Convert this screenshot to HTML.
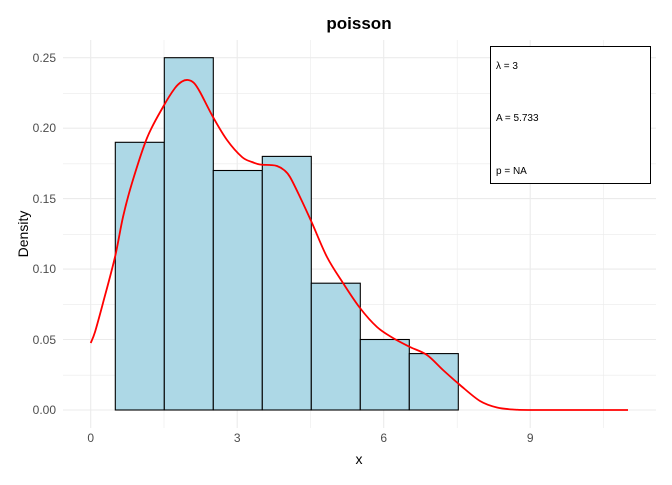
<!DOCTYPE html>
<html><head><style>body{margin:0;background:#fff}</style></head><body>
<svg width="672" height="480" xmlns="http://www.w3.org/2000/svg" font-family="Liberation Sans, sans-serif">
<rect width="672" height="480" fill="#fff"/>
<g stroke="#ebebeb" stroke-width="0.6">
<line x1="63" x2="656" y1="375.2" y2="375.2"/><line x1="63" x2="656" y1="304.7" y2="304.7"/><line x1="63" x2="656" y1="234.3" y2="234.3"/><line x1="63" x2="656" y1="163.8" y2="163.8"/><line x1="63" x2="656" y1="93.4" y2="93.4"/>
<line y1="40" y2="428" x1="164" x2="164"/><line y1="40" y2="428" x1="310.7" x2="310.7"/><line y1="40" y2="428" x1="457.2" x2="457.2"/><line y1="40" y2="428" x1="603.7" x2="603.7"/>
</g>
<g stroke="#ebebeb" stroke-width="1.1">
<line x1="63" x2="656" y1="410" y2="410"/><line x1="63" x2="656" y1="339.5" y2="339.5"/><line x1="63" x2="656" y1="269.1" y2="269.1"/><line x1="63" x2="656" y1="198.6" y2="198.6"/><line x1="63" x2="656" y1="128.2" y2="128.2"/><line x1="63" x2="656" y1="57.7" y2="57.7"/>
<line y1="40" y2="428" x1="90.7" x2="90.7"/><line y1="40" y2="428" x1="237.2" x2="237.2"/><line y1="40" y2="428" x1="383.7" x2="383.7"/><line y1="40" y2="428" x1="530.2" x2="530.2"/>
</g>
<g fill="#add8e6" stroke="#000" stroke-width="1.1">
<rect x="115.3" y="142.3" width="49" height="267.7"/>
<rect x="164.3" y="57.7" width="49" height="352.3"/>
<rect x="213.3" y="170.5" width="49" height="239.5"/>
<rect x="262.3" y="156.4" width="49" height="253.6"/>
<rect x="311.3" y="283.2" width="49" height="126.8"/>
<rect x="360.3" y="339.5" width="49" height="70.5"/>
<rect x="409.3" y="353.6" width="49" height="56.4"/>
</g>
<path id="curve" fill="none" stroke="#f00" stroke-width="1.8" stroke-linejoin="round" d=""/>
<g fill="#4d4d4d" font-size="12" text-anchor="end">
<text x="56" y="414">0.00</text><text x="56" y="344">0.05</text><text x="56" y="273">0.10</text><text x="56" y="203">0.15</text><text x="56" y="132">0.20</text><text x="56" y="62">0.25</text>
</g>
<g fill="#4d4d4d" font-size="12" text-anchor="middle">
<text x="90.7" y="442">0</text><text x="237.2" y="442">3</text><text x="383.7" y="442">6</text><text x="530.2" y="442">9</text>
</g>
<text x="359" y="464" font-size="14" text-anchor="middle">x</text>
<text transform="translate(28,234) rotate(-90)" font-size="14" text-anchor="middle">Density</text>
<text x="359" y="29" font-size="17" font-weight="bold" text-anchor="middle">poisson</text>
<rect x="490.5" y="46.5" width="160" height="137" fill="#fff" stroke="#000" stroke-width="1"/>
<g font-size="10" fill="#000">
<text x="496" y="69">λ = 3</text>
<text x="496" y="121">A = 5.733</text>
<text x="496" y="174">p = NA</text>
</g>
</svg>
<script>
var p=[[90.7,343],[95,332],[103,303],[115,257],[123,217],[132,183],[147,138],[163,107],[175,88],[182,81.5],[188,80],[194,83],[200,92],[213,117],[227,140],[242,157],[252,162],[260,164.5],[270,165],[277,166],[284,170],[290,177],[300,197],[312,223],[327,257],[343,283],[360,308],[377,327],[393,338],[410,347],[427,355],[443,370],[460,385],[480,401],[497,407.5],[515,409.6],[535,410],[628,410]];
var d="M"+p[0][0]+","+p[0][1];
for(var i=0;i<p.length-1;i++){var a=p[i-1]||p[i],b=p[i],c=p[i+1],e=p[i+2]||c;
d+=" C"+(b[0]+(c[0]-a[0])/6)+","+(b[1]+(c[1]-a[1])/6)+" "+(c[0]-(e[0]-b[0])/6)+","+(c[1]-(e[1]-b[1])/6)+" "+c[0]+","+c[1];}
document.getElementById("curve").setAttribute("d",d);
</script>
</body></html>
